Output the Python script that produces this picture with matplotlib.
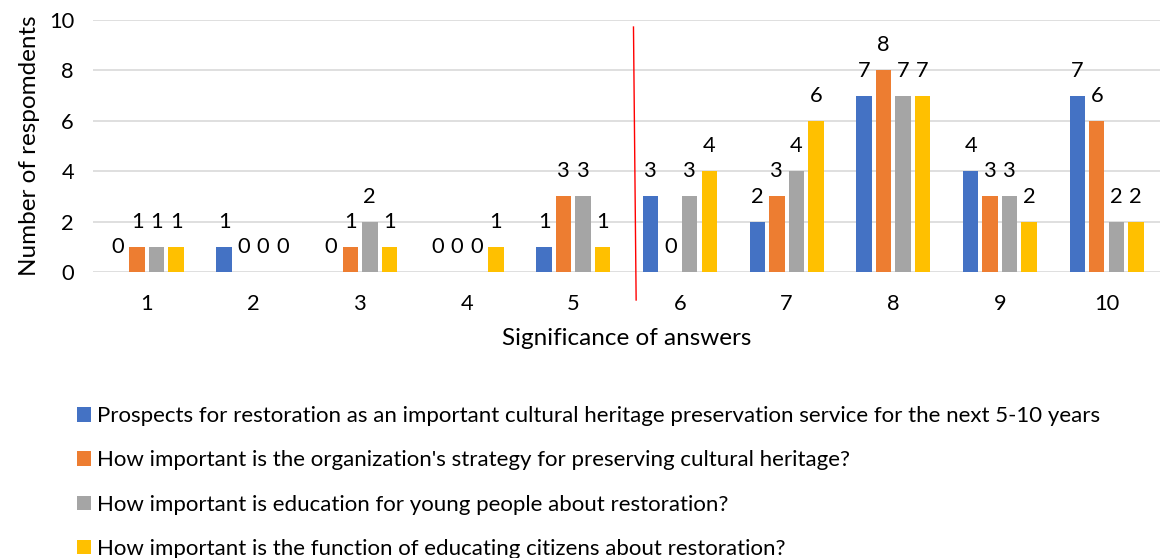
import numpy as np
import matplotlib
matplotlib.use('Agg')
import matplotlib.pyplot as plt
from matplotlib.lines import Line2D

plt.rcParams['font.family'] = ['Lato', 'DejaVu Sans']

categories = ['1', '2', '3', '4', '5', '6', '7', '8', '9', '10']
series_names = [
    'Prospects for restoration as an important cultural heritage preservation service for the next 5-10 years',
    "How important is the organization's strategy for preserving cultural heritage?",
    'How important is education for young people about restoration?',
    'How important is the function of educating citizens about restoration?',
]
prospects = [0, 1, 0, 0, 1, 3, 2, 7, 4, 7]
strategy = [1, 0, 1, 0, 3, 0, 3, 8, 3, 6]
education = [1, 0, 2, 0, 3, 3, 4, 7, 3, 2]
citizens = [1, 0, 1, 1, 1, 4, 6, 7, 2, 2]
colors = ['#4472C4', '#ED7D31', '#A5A5A5', '#FFC000']

FS = 15.75
FS_LEG = 16
FS_TITLE = 17.5
fig = plt.figure(figsize=(11.61, 5.58), dpi=100)
ax = fig.add_axes([0.0805, 0.5125, 0.9185, 0.4517])

x = np.arange(1, len(categories) + 1)
pitch, width = 0.183, 0.145
for k, (vals, c, name) in enumerate(zip([prospects, strategy, education, citizens],
                                        colors, series_names)):
    xs = x + (k - 1.5) * pitch
    ax.bar(xs, vals, width=width, color=c, label=name, zorder=3)
    for xi, v in zip(xs, vals):
        ax.annotate(str(v), (xi, v), xytext=(0, 18), textcoords='offset points',
                    ha='center', va='center', fontsize=FS, color='#000000')

ax.set_xlim(0.5, 10.5)
ax.set_ylim(0, 10)
ax.set_yticks(range(0, 11, 2))
ax.set_xticks(x)
ax.set_xticklabels(categories)
ax.tick_params(length=0, labelsize=FS, pad=14, colors='#000000')
ax.tick_params(axis='x', pad=16)
ax.grid(axis='y', color='#d9d9d9', lw=1.2, zorder=0)
for s in ax.spines.values():
    s.set_visible(False)
ax.set_xlabel('Significance of answers', fontsize=FS_TITLE, labelpad=10)
ax.set_ylabel('Number of respomdents', fontsize=FS_TITLE, labelpad=6)

# red divider between 5 and 6
ax.add_line(Line2D([5.564, 5.589], [9.72, -1.11], color='red', lw=1,
                   clip_on=False, zorder=4))

ax.legend(loc='upper left', bbox_to_anchor=(0.066, 0.272),
          bbox_transform=fig.transFigure, frameon=False, fontsize=FS_LEG,
          handlelength=0.63, handleheight=0.63, handletextpad=0.27,
          labelspacing=1.09, borderpad=0, borderaxespad=0)

fig.savefig('out.png', dpi=100)
